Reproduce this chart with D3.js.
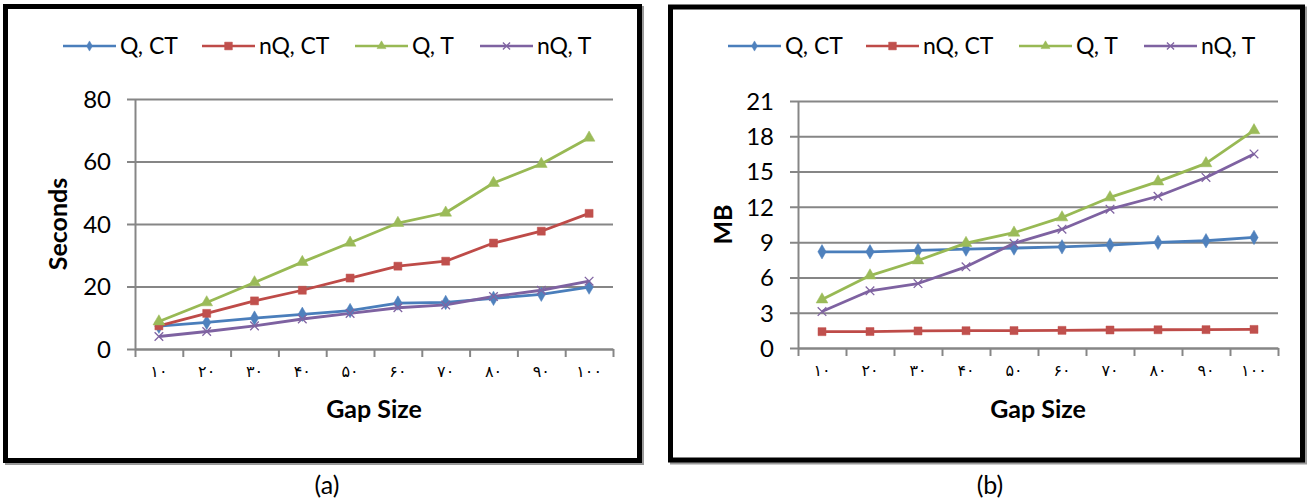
<!DOCTYPE html>
<html>
<head>
<meta charset="utf-8">
<script src="https://cdn.jsdelivr.net/npm/d3@7"></script>
<style>
  html, body { margin: 0; padding: 0; background: #fff; }
  svg { display: block; }
</style>
</head>
<body>
<svg id="chart" width="1308" height="502"></svg>
<script>
// ---------- data ----------
const categories = ["۱۰", "۲۰", "۳۰", "۴۰", "۵۰", "۶۰", "۷۰", "۸۰", "۹۰", "۱۰۰"];
const seriesNames = ["Q, CT", "nQ, CT", "Q, T", "nQ, T"];

// panel (a): Seconds
const secQCT  = [7.3, 8.5, 9.9, 11.1, 12.3, 14.7, 14.9, 16.2, 17.5, 19.8];
const secNQCT = [7.4, 11.4, 15.4, 18.8, 22.7, 26.5, 28.1, 33.9, 37.7, 43.4];
const secQT   = [8.8, 14.9, 21.3, 27.8, 34.0, 40.3, 43.6, 53.1, 59.2, 67.6];
const secNQT  = [4.0, 5.6, 7.4, 9.6, 11.4, 13.2, 14.1, 16.8, 18.8, 21.7];
const secTicks = [0, 20, 40, 60, 80];

// panel (b): MB
const mbQCT  = [8.18, 8.18, 8.30, 8.41, 8.50, 8.60, 8.75, 8.98, 9.12, 9.40];
const mbNQCT = [1.39, 1.40, 1.45, 1.47, 1.48, 1.50, 1.53, 1.55, 1.56, 1.58];
const mbQT   = [4.12, 6.16, 7.44, 8.92, 9.80, 11.1, 12.8, 14.15, 15.7, 18.5];
const mbNQT  = [3.10, 4.86, 5.48, 6.90, 8.90, 10.1, 11.8, 12.9, 14.5, 16.5];
const mbTicks = [0, 3, 6, 9, 12, 15, 18, 21];

// ---------- styling ----------
const lineColors   = ["#4A7EBB", "#BE4B48", "#98B954", "#7E62A1"];
const markerColors = ["#4F81BD", "#C0504D", "#9BBB59", "#8064A2"];
const markerTypes  = [d3.symbolDiamond, d3.symbolSquare, d3.symbolTriangle, d3.symbolX];
const markerSizes  = [60, 64, 60, 50];
const legendMarkerSizes = [30, 60, 35, 35];

const svg = d3.select("#chart");
const FONT = "Lato, 'Open Sans', sans-serif";
const DIGIT_FONT = "'DejaVu Sans', sans-serif";
const GRID = "#868686";

function drawMarker(g, i, x, y, size) {
  const p = g.append("path")
    .attr("d", d3.symbol().type(markerTypes[i]).size(size)())
    .attr("transform", `translate(${x},${y})`);
  if (i === 3) {
    p.attr("fill", "none").attr("stroke", markerColors[i]).attr("stroke-width", 1.3);
  } else {
    p.attr("fill", markerColors[i]).attr("stroke", markerColors[i]).attr("stroke-width", 0.5);
  }
}

function panel(cfg) {
  const g = svg.append("g");

  // frame with shadow
  const f = cfg.frame;
  g.append("rect").attr("x", f.x + 2).attr("y", f.y + 2).attr("width", f.w).attr("height", f.h)
    .attr("fill", "none").attr("stroke", "#9a9a9a").attr("stroke-width", f.sw);
  g.append("rect").attr("x", f.x).attr("y", f.y).attr("width", f.w).attr("height", f.h)
    .attr("fill", "#fff").attr("stroke", "#000").attr("stroke-width", f.sw);

  const x = d3.scaleBand().domain(categories).range([cfg.left, cfg.right]).padding(0);
  const xi = d3.scaleLinear().domain([0, categories.length]).range([cfg.left, cfg.right]);
  const y = d3.scaleLinear().domain([0, cfg.ymax]).range([cfg.bottom, cfg.top]);

  // gridlines + y axis ticks
  const yAxis = d3.axisLeft(y).tickValues(cfg.yTicks).tickSize(8).tickSizeOuter(0).tickPadding(16);
  const ya = g.append("g").attr("transform", `translate(${cfg.left},0)`).call(yAxis);
  ya.select(".domain").attr("stroke", GRID).attr("stroke-width", 2);
  ya.selectAll(".tick line").attr("stroke", GRID).attr("stroke-width", 2)
    .attr("x2", cfg.right - cfg.left).attr("x1", -8);
  ya.selectAll(".tick text").attr("font-family", FONT).attr("font-size", 24).attr("fill", "#000")
    .attr("dy", "0.35em");

  // x axis: boundary ticks
  const xAxisTicks = d3.axisBottom(xi).tickValues(d3.range(0, categories.length + 1))
    .tickSize(8).tickSizeOuter(0).tickFormat("");
  const xa = g.append("g").attr("transform", `translate(0,${cfg.bottom})`).call(xAxisTicks);
  xa.select(".domain").attr("stroke", GRID).attr("stroke-width", 2);
  xa.selectAll(".tick line").attr("stroke", GRID).attr("stroke-width", 2);

  // x axis labels (category centres)
  const xLab = d3.axisBottom(x).tickSize(0).tickPadding(17);
  const xl = g.append("g").attr("transform", `translate(0,${cfg.bottom})`).call(xLab);
  xl.select(".domain").remove();
  xl.selectAll(".tick text").attr("font-family", DIGIT_FONT).attr("font-size", 16)
    .attr("letter-spacing", 5).attr("fill", "#000");

  // series lines
  const line = d3.line().x((d, i) => x(categories[i]) + x.bandwidth() / 2).y(d => y(d));
  cfg.series.forEach((s, si) => {
    g.append("path").datum(s).attr("d", line).attr("fill", "none")
      .attr("stroke", lineColors[si]).attr("stroke-width", 2.8).attr("stroke-linejoin", "round");
  });
  cfg.series.forEach((s, si) => {
    s.forEach((v, i) => drawMarker(g, si, x(categories[i]) + x.bandwidth() / 2, y(v), markerSizes[si]));
  });

  // axis titles
  g.append("text").text("Gap Size").attr("x", (cfg.left + cfg.right) / 2).attr("y", cfg.xTitleY)
    .attr("text-anchor", "middle").attr("font-family", FONT).attr("font-weight", "bold").attr("font-size", 25);
  g.append("text").text(cfg.yTitle)
    .attr("transform", `translate(${cfg.yTitleX},${(cfg.top + cfg.bottom) / 2}) rotate(-90)`)
    .attr("text-anchor", "middle").attr("dy", "0.35em")
    .attr("font-family", FONT).attr("font-weight", "bold").attr("font-size", 25);

  // legend
  seriesNames.forEach((name, i) => {
    const lx = cfg.legendX[i];
    g.append("line").attr("x1", lx).attr("x2", lx + 53).attr("y1", cfg.legendY).attr("y2", cfg.legendY)
      .attr("stroke", lineColors[i]).attr("stroke-width", 2.6);
    drawMarker(g, i, lx + 26.5, cfg.legendY, legendMarkerSizes[i]);
    g.append("text").text(name).attr("x", lx + 57).attr("y", cfg.legendY).attr("dy", "0.36em")
      .attr("font-family", FONT).attr("font-size", 23).attr("fill", "#000");
  });

  // caption
  svg.append("text").text(cfg.caption).attr("x", cfg.captionX).attr("y", 494)
    .attr("text-anchor", "middle").attr("font-family", FONT).attr("font-size", 25).attr("fill", "#000");
}

panel({
  frame: { x: 5.5, y: 6.5, w: 634, h: 454, sw: 5 },
  left: 135, right: 613, top: 99, bottom: 349, ymax: 80, yTicks: secTicks,
  series: [secQCT, secNQCT, secQT, secNQT],
  yTitle: "Seconds", yTitleX: 58, xTitleY: 418,
  legendX: [63, 202, 355, 480], legendY: 46,
  caption: "(a)", captionX: 327
});

panel({
  frame: { x: 670.5, y: 7, w: 632, h: 453, sw: 5 },
  left: 798, right: 1278, top: 101, bottom: 348, ymax: 21, yTicks: mbTicks,
  series: [mbQCT, mbNQCT, mbQT, mbNQT],
  yTitle: "MB", yTitleX: 723, xTitleY: 418,
  legendX: [728, 866, 1019, 1144], legendY: 46,
  caption: "(b)", captionX: 990
});
</script>
</body>
</html>
